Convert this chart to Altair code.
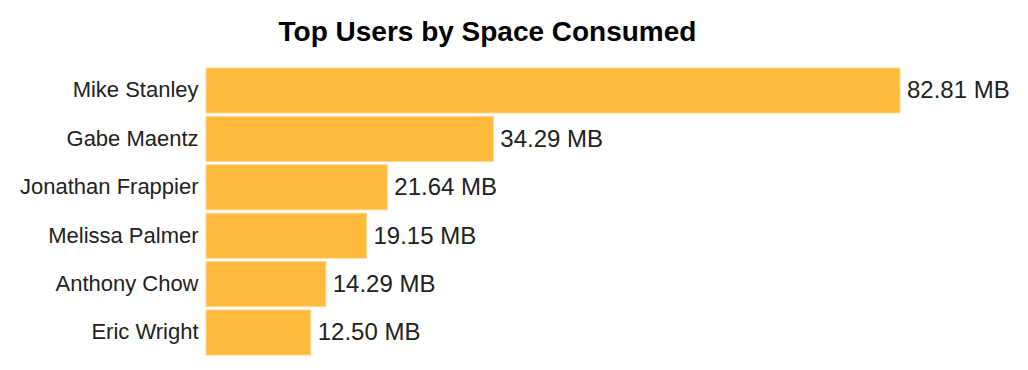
import altair as alt
import pandas as pd

users = ["Mike Stanley", "Gabe Maentz", "Jonathan Frappier", "Melissa Palmer", "Anthony Chow", "Eric Wright"]
space_mb = [82.81, 34.29, 21.64, 19.15, 14.29, 12.50]
value_labels = ["82.81 MB", "34.29 MB", "21.64 MB", "19.15 MB", "14.29 MB", "12.50 MB"]

df = pd.DataFrame({"user": users, "mb": space_mb, "label": value_labels})

PLOT_W = 760
PX_PER_MB = 694 / 82.81
X_MAX = PLOT_W / PX_PER_MB

y_enc = alt.Y("user:N", sort=users, title=None,
              scale=alt.Scale(paddingInner=0.07, paddingOuter=0.035),
              axis=alt.Axis(domain=False, ticks=False, labelFont="Liberation Sans",
                            labelFontSize=22, labelColor="#222222", labelPadding=8,
                            labelLimit=300))
x_enc = alt.X("mb:Q", title=None, scale=alt.Scale(domain=[0, X_MAX], nice=False, zero=True),
              axis=None)

bars = alt.Chart(df).mark_bar(color="#FFB93B", stroke="#FFD690", strokeWidth=1).encode(
    x=x_enc, y=y_enc
)
text = alt.Chart(df).mark_text(align="left", baseline="middle", dx=7, dy=1,
                               font="Liberation Sans", fontSize=24, color="#222222").encode(
    x=x_enc, y=y_enc, text="label:N"
)

chart = (bars + text).properties(
    width=PLOT_W,
    height=290.4,
    background="#ffffff",
    title=alt.TitleParams("Top Users by Space Consumed", font="Liberation Sans",
                          fontSize=28, fontWeight="bold", color="#000000",
                          anchor="middle", frame="group", dx=-98.5,
                          baseline="alphabetic", offset=0, dy=3),
    autosize=alt.AutoSizeParams(type="none"),
    padding={"left": 198, "top": 58.3, "right": 50, "bottom": 4},
).configure_view(stroke=None, strokeWidth=0)

chart.save("out.html", embed_options={"renderer": "svg", "actions": False})
